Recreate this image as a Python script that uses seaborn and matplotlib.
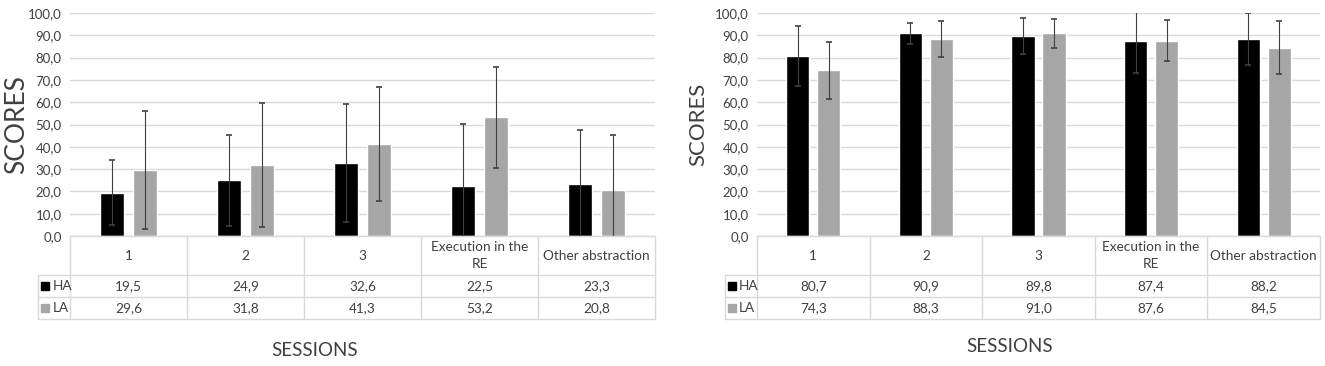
import pandas as pd
import matplotlib
matplotlib.use("Agg")
import matplotlib.pyplot as plt
import seaborn as sns
from matplotlib.ticker import FuncFormatter

sessions = ["1", "2", "3", "Execution in the\nRE", "Other abstraction"]
groups = ["HA", "LA"]

# left panel
left_ha = [19.5, 24.9, 32.6, 22.5, 23.3]
left_la = [29.6, 31.8, 41.3, 53.2, 20.8]
left_ha_err = [14.5, 20.4, 26.4, 27.6, 24.2]
left_la_err = [26.6, 27.8, 25.7, 22.6, 24.3]

# right panel
right_ha = [80.7, 90.9, 89.8, 87.4, 88.2]
right_la = [74.3, 88.3, 91.0, 87.6, 84.5]
right_ha_err = [13.3, 4.6, 8.1, 14.5, 11.7]
right_la_err = [12.8, 7.9, 6.5, 9.2, 11.7]

colors = {"HA": "#000000", "LA": "#a6a6a6"}
grid_col = "#d9d9d9"
font = "Lato"

sns.set_theme(style="white")
plt.rcParams["font.family"] = [font, "DejaVu Sans"]


def comma(v, pos):
    return f"{v:.1f}".replace(".", ",")


def panel(ax, ha, la, ha_err, la_err, legend_x):
    df = pd.DataFrame({
        "session": sessions * 2,
        "group": ["HA"] * 5 + ["LA"] * 5,
        "score": ha + la,
    })
    sns.barplot(data=df, x="session", y="score", hue="group", order=sessions,
                hue_order=groups, palette=colors, width=0.55, gap=0.25,
                saturation=1, legend=False, ax=ax, zorder=2)
    errs = {"HA": ha_err, "LA": la_err}
    for grp, cont in zip(groups, ax.containers):
        xs = [b.get_x() + b.get_width() / 2 for b in cont]
        hs = [b.get_height() for b in cont]
        ax.errorbar(xs, hs, yerr=errs[grp], fmt="none", ecolor="#404040",
                    elinewidth=0.8, capsize=2.5, capthick=1.2, zorder=3)
    ax.set_ylim(0, 100)
    ax.set_xlim(-0.5, 4.5)
    ax.set_yticks(range(0, 101, 10))
    ax.yaxis.set_major_formatter(FuncFormatter(comma))
    ax.tick_params(axis="y", labelsize=9.5, labelcolor="#404040", pad=6, length=0)
    ax.set_xticks([])
    ax.set_xlabel("")
    ax.grid(axis="y", color=grid_col, lw=1, zorder=0)
    ax.set_axisbelow(True)
    for s in ax.spines.values():
        s.set_visible(False)

    # data table under the plot
    y0, y1, y2, y3 = 0, -0.175, -0.274, -0.373
    kw = dict(color=grid_col, lw=1, transform=ax.transAxes, clip_on=False)
    ax.plot([0, 1], [y0, y0], **kw)
    for yy in (y1, y2, y3):
        ax.plot([legend_x, 1], [yy, yy], **kw)
    for i in range(6):
        ax.plot([i / 5, i / 5], [y0, y3], **kw)
    ax.plot([legend_x, legend_x], [y1, y3], **kw)
    tkw = dict(transform=ax.transAxes, fontsize=9.8, color="#404040",
               ha="center", va="center")
    for i, name in enumerate(sessions):
        xc = (i + 0.5) / 5
        ax.text(xc, (y0 + y1) / 2, name, linespacing=1.5, **tkw)
        ax.text(xc, (y1 + y2) / 2, comma(ha[i], 0), **tkw)
        ax.text(xc, (y2 + y3) / 2, comma(la[i], 0), **tkw)
    for grp, (ya, yb) in zip(groups, [(y1, y2), (y2, y3)]):
        ym = (ya + yb) / 2
        ax.plot([legend_x + 0.012], [ym], marker="s", ms=6, color=colors[grp],
                transform=ax.transAxes, clip_on=False, ls="none")
        ax.text(legend_x + 0.025, ym, grp, transform=ax.transAxes, fontsize=9.8,
                color="#404040", ha="left", va="center")


fig = plt.figure(figsize=(13.25, 3.66), dpi=100)
ax1 = fig.add_axes([70 / 1325, 1 - 236 / 366, 585 / 1325, 223 / 366])
ax2 = fig.add_axes([757 / 1325, 1 - 236 / 366, 563 / 1325, 223 / 366])

panel(ax1, left_ha, left_la, left_ha_err, left_la_err, -0.055)
panel(ax2, right_ha, right_la, right_ha_err, right_la_err, -0.057)

ax1.set_ylabel("SCORES", fontsize=19, color="#404040")
ax2.set_ylabel("SCORES", fontsize=16, color="#404040")
ax1.yaxis.set_label_coords(-0.070, 0.5)
ax2.yaxis.set_label_coords(-0.086, 0.5)

fig.text(315 / 1325, 1 - 350 / 366, "SESSIONS", fontsize=13.5, color="#404040",
         ha="center", va="center")
fig.text(1010 / 1325, 1 - 347 / 366, "SESSIONS", fontsize=13.5, color="#404040",
         ha="center", va="center")

fig.savefig("out.png", dpi=100)
